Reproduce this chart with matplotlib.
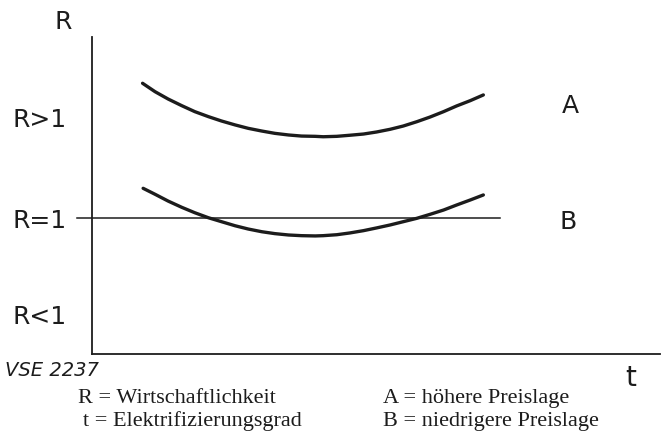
import matplotlib.pyplot as plt

# curve A (higher price level)
t_a = [0.89, 1.11, 1.34, 1.58, 1.81, 2.05, 2.28, 2.52, 2.75, 2.99, 3.22, 3.46, 3.69, 3.93,
       4.07, 4.31, 4.54, 4.78, 5.01, 5.25, 5.48, 5.72, 5.95, 6.19, 6.42, 6.66, 6.89]
r_a = [1.995, 1.933, 1.879, 1.830, 1.786, 1.749, 1.717, 1.688, 1.663, 1.643, 1.626, 1.614, 1.606, 1.604,
       1.601, 1.604, 1.612, 1.621, 1.636, 1.656, 1.680, 1.712, 1.746, 1.786, 1.828, 1.867, 1.909]

# curve B (lower price level)
t_b = [0.90, 1.11, 1.34, 1.58, 1.81, 2.05, 2.28, 2.52, 2.75, 2.99, 3.22, 3.46, 3.69, 3.93,
       4.07, 4.31, 4.54, 4.78, 5.01, 5.25, 5.48, 5.72, 5.95, 6.19, 6.42, 6.66, 6.89]
r_b = [1.221, 1.177, 1.127, 1.081, 1.041, 1.004, 0.975, 0.945, 0.921, 0.901, 0.887, 0.877, 0.872, 0.870,
       0.872, 0.879, 0.892, 0.909, 0.929, 0.951, 0.975, 1.000, 1.029, 1.061, 1.098, 1.135, 1.172]

# R = 1 reference line
t_ref = [-0.26, 7.18]
r_ref = [1.0, 1.0]

ytick_pos = [1.74, 1.0, 0.29]
ytick_labels = ["R>1", "R=1", "R<1"]

W, H = 667, 436
fig = plt.figure(figsize=(W / 100, H / 100), dpi=100)
ax = fig.add_axes([92 / W, (H - 354) / H, (660 - 92) / W, (354 - 37) / H])
ax.set_xlim(0, 10)
ax.set_ylim(0, 2.336)

ink = "#1c1c1c"
ax.plot(t_a, r_a, color=ink, lw=2.4, solid_capstyle="round", solid_joinstyle="round")
ax.plot(t_b, r_b, color=ink, lw=2.4, solid_capstyle="round", solid_joinstyle="round")
ax.plot(t_ref, r_ref, color=ink, lw=1.1, clip_on=False)

for s in ["top", "right"]:
    ax.spines[s].set_visible(False)
for s in ["left", "bottom"]:
    ax.spines[s].set_linewidth(1.3)
    ax.spines[s].set_color(ink)

ax.set_xticks([])
ax.set_yticks(ytick_pos, ytick_labels)
ax.tick_params(axis="y", length=0, pad=18, labelsize=18, labelcolor=ink)

ax.text(-0.51, 2.45, "R", fontsize=18, color=ink, ha="center", va="center", clip_on=False)
ax.text(9.49, -0.18, "t", fontsize=20, color=ink, ha="center", va="center", clip_on=False)
ax.text(8.42, 1.83, "A", fontsize=18, color=ink, ha="center", va="center")
ax.text(8.38, 0.97, "B", fontsize=18, color=ink, ha="center", va="center")

fig.text(5 / W, 1 - 370 / H, "VSE 2237", fontsize=14, style="italic", color=ink, va="center")

serif = "Liberation Serif"
fs = 16
fig.text(78 / W, 1 - 403 / H, "R = Wirtschaftlichkeit", family=serif, fontsize=fs, color=ink, va="baseline")
fig.text(83 / W, 1 - 426 / H, "t = Elektrifizierungsgrad", family=serif, fontsize=fs, color=ink, va="baseline")
fig.text(383 / W, 1 - 403 / H, "A = höhere Preislage", family=serif, fontsize=fs, color=ink, va="baseline")
fig.text(383 / W, 1 - 426 / H, "B = niedrigere Preislage", family=serif, fontsize=fs, color=ink, va="baseline")

fig.savefig("out.png", dpi=100)
